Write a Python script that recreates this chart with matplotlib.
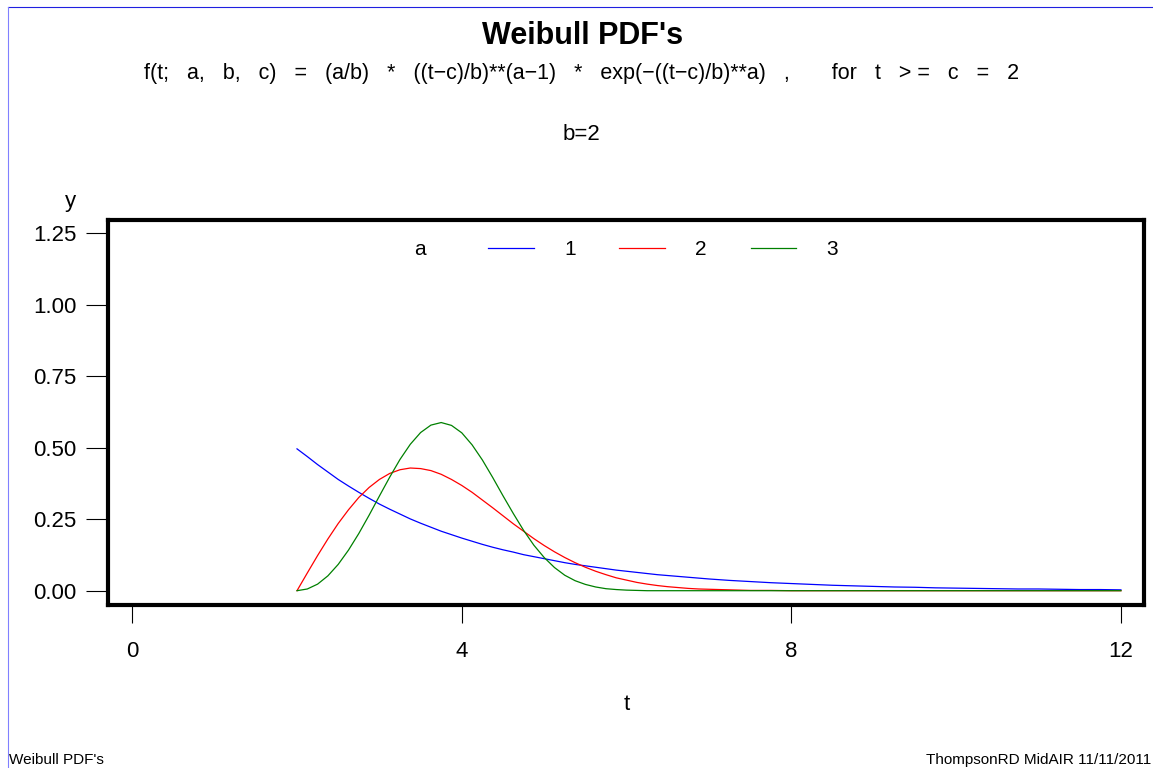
import matplotlib
matplotlib.use('Agg')
import matplotlib.pyplot as plt
from matplotlib.lines import Line2D

plt.rcParams['font.family'] = ['Liberation Sans', 'DejaVu Sans']

# t grid: fine steps near the peaks, coarser in the tail
t = [2.0 + 0.125 * i for i in range(41)] + [7.25 + 0.25 * i for i in range(20)]

# a = 1
y_a1 = [0.496, 0.469, 0.441, 0.415, 0.389, 0.366, 0.344, 0.323, 0.303, 0.285,
        0.268, 0.251, 0.236, 0.222, 0.208, 0.196, 0.184, 0.173, 0.162, 0.152,
        0.143, 0.135, 0.126, 0.119, 0.112, 0.105, 0.098, 0.092, 0.087, 0.082,
        0.077, 0.072, 0.068, 0.064, 0.060, 0.056, 0.053, 0.050, 0.047, 0.044,
        0.041,
        0.036, 0.032, 0.028, 0.025, 0.022, 0.019, 0.017, 0.015, 0.013, 0.012,
        0.010, 0.009, 0.008, 0.007, 0.006, 0.006, 0.005, 0.004, 0.004, 0.003]
# a = 2
y_a2 = [0.000, 0.062, 0.123, 0.181, 0.235, 0.283, 0.326, 0.361, 0.389, 0.410,
        0.423, 0.429, 0.427, 0.420, 0.407, 0.389, 0.368, 0.344, 0.317, 0.290,
        0.262, 0.234, 0.208, 0.182, 0.158, 0.136, 0.116, 0.098, 0.082, 0.068,
        0.056, 0.045, 0.037, 0.029, 0.023, 0.018, 0.014, 0.011, 0.008, 0.006,
        0.005,
        0.003, 0.001, 0.001, 0.000, 0.000, 0.000, 0.000, 0.000, 0.000, 0.000,
        0.000, 0.000, 0.000, 0.000, 0.000, 0.000, 0.000, 0.000, 0.000, 0.000]
# a = 3
y_a3 = [0.000, 0.006, 0.023, 0.052, 0.092, 0.142, 0.200, 0.264, 0.331, 0.397,
        0.459, 0.512, 0.553, 0.579, 0.588, 0.578, 0.552, 0.510, 0.457, 0.396,
        0.332, 0.270, 0.211, 0.159, 0.116, 0.081, 0.054, 0.035, 0.022, 0.013,
        0.007, 0.004, 0.002, 0.001, 0.000, 0.000, 0.000, 0.000, 0.000, 0.000,
        0.000,
        0.000, 0.000, 0.000, 0.000, 0.000, 0.000, 0.000, 0.000, 0.000, 0.000,
        0.000, 0.000, 0.000, 0.000, 0.000, 0.000, 0.000, 0.000, 0.000, 0.000]

series_labels = ['1', '2', '3']
series_colors = ['#0000ff', '#ff0000', '#008000']

x_ticks = [0, 4, 8, 12]
y_ticks = [0.0, 0.25, 0.5, 0.75, 1.0, 1.25]

W, H = 1153, 768
fig = plt.figure(figsize=(W / 100, H / 100), dpi=100)

def fx(px):
    return px / W

def fy(py):
    return 1 - py / H

ax = fig.add_axes([fx(108), fy(605), fx(1144) - fx(108), fy(219.5) - fy(605)])

lines = []
for ys, lab, col in zip([y_a1, y_a2, y_a3], series_labels, series_colors):
    ln, = ax.plot(t, ys, color=col, lw=0.9, label=lab)
    lines.append(ln)

ax.set_xlim(-0.294, 12.28)
ax.set_ylim(-0.050, 1.298)
ax.set_xticks(x_ticks)
ax.set_xticklabels([str(v) for v in x_ticks])
ax.set_yticks(y_ticks)
ax.set_yticklabels(['%.2f' % v for v in y_ticks])

for s in ax.spines.values():
    s.set_linewidth(3.0)
    s.set_color('black')
ax.tick_params(axis='y', direction='out', length=16, width=0.8, pad=6.5,
               labelsize=16)
ax.tick_params(axis='x', direction='out', length=13, width=0.8, pad=13,
               labelsize=16)

# legend: "a" with blank handle then three lines
blank = Line2D([], [], color='none')
ax.legend([blank] + lines, ['a   '] + series_labels, ncol=4, frameon=False,
          loc='upper center', bbox_to_anchor=(0.464, 1.0), fontsize=15,
          handlelength=2.2, handletextpad=1.45, columnspacing=2.1,
          borderaxespad=0.6)

# titles
fig.text(fx(583), fy(36), "Weibull PDF's", ha='center', va='center',
         fontsize=22, fontweight='bold')
fig.text(fx(581.5), fy(73),
         "f(t;   a,   b,   c)   =   (a/b)   *   ((t\u2212c)/b)**(a\u22121)   *   "
         "exp(\u2212((t\u2212c)/b)**a)   ,       for   t   > =   c   =   2",
         ha='center', va='center', fontsize=15.5)
fig.text(fx(581), fy(135), "b=2", ha='center', va='center', fontsize=16)

# axis labels
fig.text(fx(70), fy(202), 'y', ha='center', va='center', fontsize=16)
fig.text(fx(627), fy(705), 't', ha='center', va='center', fontsize=16)

# footnotes
fig.text(fx(9), fy(764), "Weibull PDF's", ha='left', va='baseline',
         fontsize=11)
fig.text(fx(1151), fy(764), "ThompsonRD MidAIR 11/11/2011", ha='right',
         va='baseline', fontsize=11)

# thin blue page border (top and left)
fig.add_artist(Line2D([fx(8), 1], [fy(7), fy(7)], color='#2020e0', lw=0.8))
fig.add_artist(Line2D([fx(8), fx(8)], [fy(7), 0], color='#8080ff', lw=0.8))

fig.savefig('out.png', dpi=100)
